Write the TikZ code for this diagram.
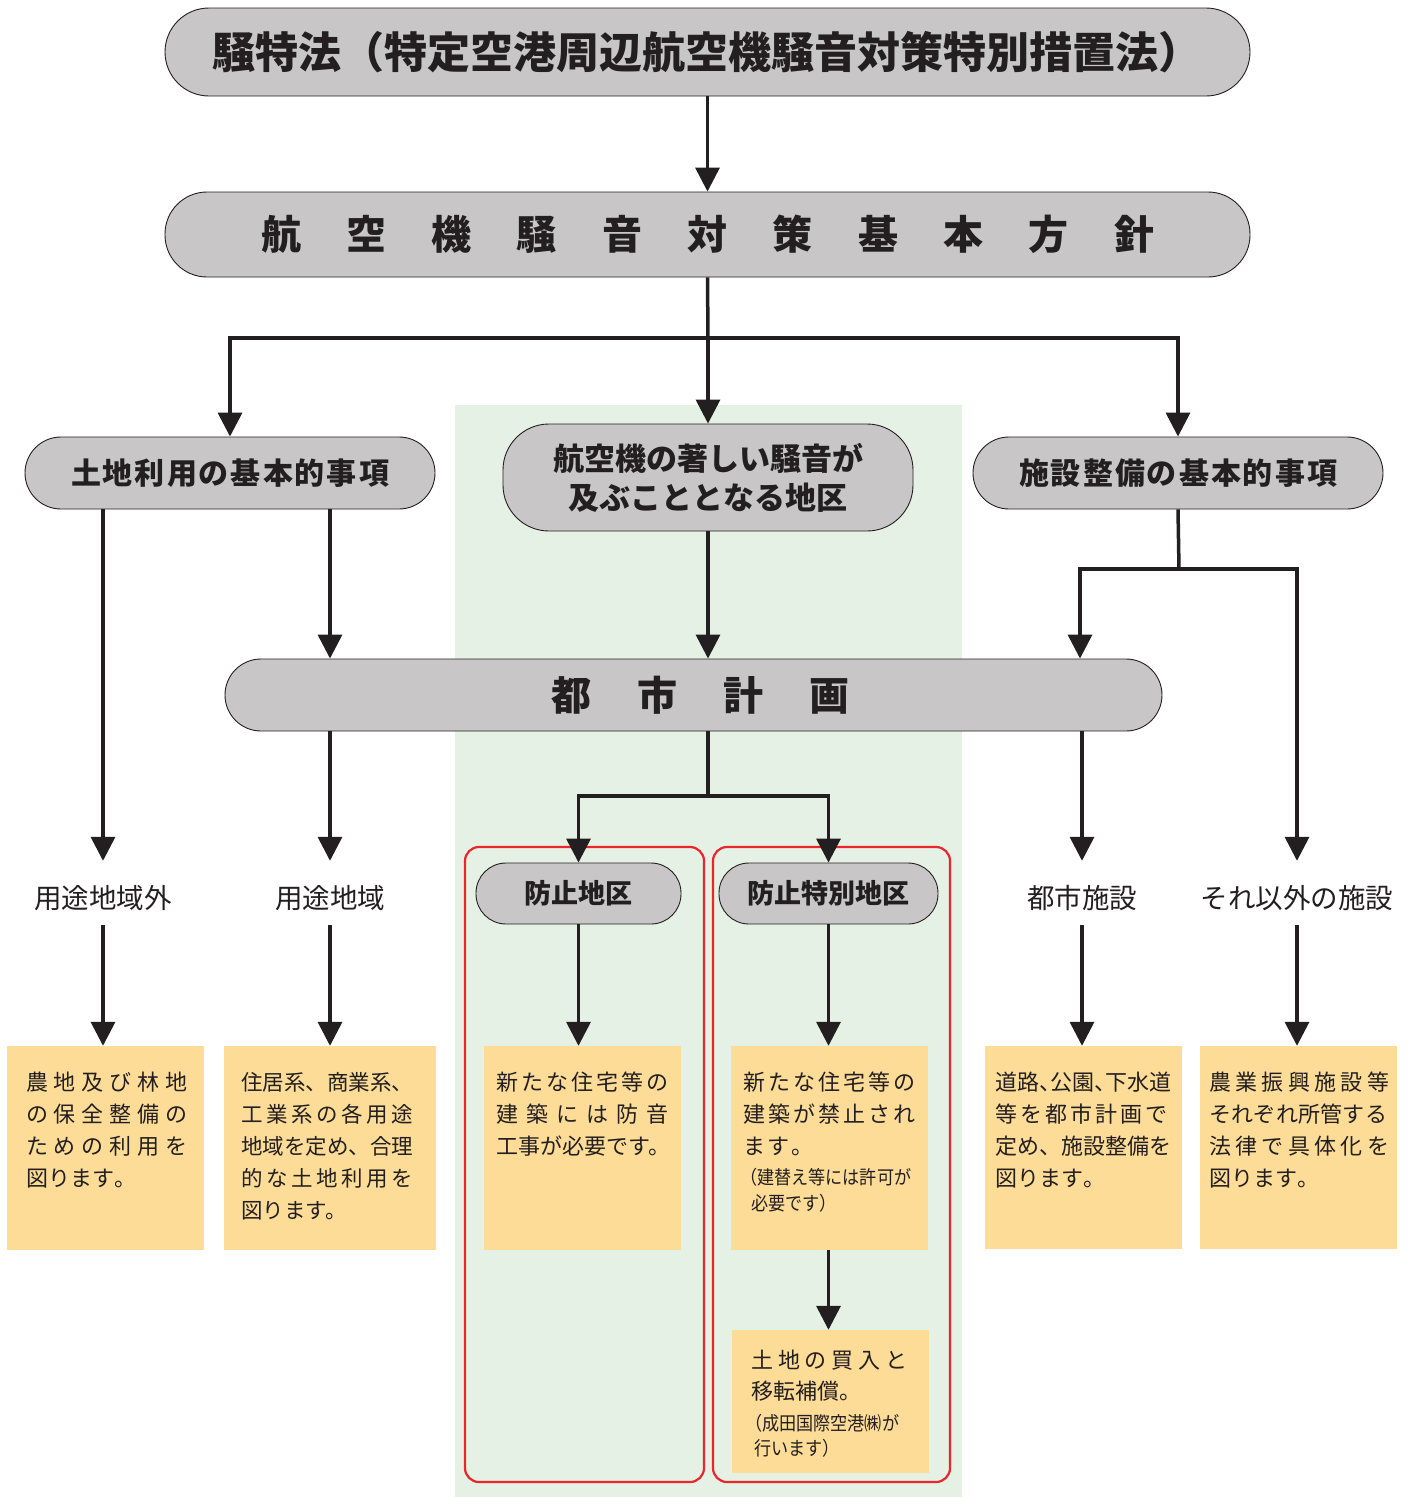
\documentclass[tikz,border=0pt]{standalone}
\usepackage{fontspec}
\setmainfont{Noto Sans CJK JP}
\usetikzlibrary{arrows.meta}
\definecolor{boxgray}{HTML}{C8C6C7}
\definecolor{panelgreen}{HTML}{E6F1E5}
\definecolor{notecol}{HTML}{FDDC98}
\definecolor{framered}{HTML}{E8262B}
\definecolor{ink}{HTML}{231F20}
\makeatletter
\newcommand\jline[2]{\makebox[#1pt][s]{\jl@first#2\@nil}}
\def\jl@first#1{#1\jl@rest}
\def\jl@rest#1{\ifx#1\@nil\else\hfil#1\expandafter\jl@rest\fi}
\makeatother
\newcommand\fs[1]{\fontsize{#1}{#1}\selectfont}
\newcommand\lowered[1]{\raisebox{-5pt}[24pt][3pt]{#1}}
\begin{document}
\begin{tikzpicture}[x=1pt,y=-1pt,
  graybox/.style={draw=ink, line width=0.9, fill=boxgray, inner sep=0, font=\bfseries, text=ink},
  notebox/.style={fill=notecol, inner sep=0},
  lab/.style={inner sep=0, minimum height=64, text=ink, font=\fs{27.5}},
  redframe/.style={draw=framered, line width=2.2, rounded corners=14, inner sep=0},
  ln/.style={line width=3.5, draw=ink},
  arr/.style={ln, -{Triangle[width=24pt,length=24pt]}},
  txt/.style={anchor=base west, inner sep=0, text=ink, font=\fs{22}},
  small/.style={anchor=base west, inner sep=0, text=ink}
]
\useasboundingbox (0,0) rectangle (1410,1497);
% green panel
\node[fill=panelgreen, inner sep=0, minimum width=507, minimum height=1092] (panel) at (708.5,951) {};
% red frames
\node[redframe, minimum width=239, minimum height=635] (fA) at (584.5,1164.5) {};
\node[redframe, minimum width=237, minimum height=635] (fB) at (831.5,1164.5) {};

% gray boxes
\node[graybox, rounded corners=44, minimum width=1085, minimum height=88] (t1) at (707.5,52)
  {\fs{43}\hspace*{-2pt}騒特法（特定空港周辺航空機騒音対策特別措置法）};
\node[graybox, rounded corners=42, minimum width=1085, minimum height=85] (t2) at (707.5,234.5)
  {\fs{40}\jline{893}{航空機騒音対策基本方針}};
\node[graybox, rounded corners=36, minimum width=410, minimum height=72] (hL) at (230,473)
  {\fs{30}\jline{318}{土地利用の基本的事項}};
\node[graybox, rounded corners=46, minimum width=410, minimum height=107, align=center,
  font=\bfseries\fontsize{31}{39}\selectfont] (hC) at (708,477.5)
  {航空機の著しい騒音が\\及ぶこととなる地区};
\node[graybox, rounded corners=36, minimum width=410, minimum height=72] (hR) at (1178,473)
  {\fs{30}\jline{318}{施設整備の基本的事項}};
\node[graybox, rounded corners=36, minimum width=937, minimum height=72] (cp) at (693.5,695)
  {\fs{40}\hspace*{13pt}\jline{298}{都市計画}};
\node[graybox, rounded corners=30, minimum width=205, minimum height=61] (b1) at (578.5,893.5)
  {\fs{27}防止地区};
\node[graybox, rounded corners=30, minimum width=219, minimum height=61] (b2) at (828.5,893.5)
  {\fs{27}防止特別地区};

% labels
\node[lab] (l1) at (103,893) {\lowered{用途地域外}};
\node[lab] (l2) at (330,893) {\lowered{用途地域}};
\node[lab] (l3) at (1082,893) {\lowered{都市施設}};
\node[lab] (l4) at (1297,893) {\lowered{それ以外の施設}};

% note boxes
\node[notebox, minimum width=197, minimum height=204] (nA) at (105.5,1148) {};
\node[notebox, minimum width=212, minimum height=204] (nB) at (330,1148) {};
\node[notebox, minimum width=197, minimum height=204] (nC) at (582.5,1148) {};
\node[notebox, minimum width=197, minimum height=204] (nD) at (829.5,1148) {};
\node[notebox, minimum width=197, minimum height=203] (nE) at (1083.5,1147.5) {};
\node[notebox, minimum width=197, minimum height=203] (nF) at (1298.5,1147.5) {};
\node[notebox, minimum width=197, minimum height=143] (nG) at (830.5,1401.5) {};

% note texts
\node[txt] (a1) at (26,1090) {\jline{161}{農地及び林地}};
\node[txt] (a2) at (26,1122) {\jline{161}{の保全整備の}};
\node[txt] (a3) at (26,1154) {\jline{161}{ための利用を}};
\node[txt] (a4) at (26,1186) {\jline{110}{図ります。}};

\node[txt, font=\fs{21.5}] (b1t) at (241,1090) {住居系、商業系、};
\node[txt, font=\fs{21.5}] (b2t) at (241,1122) {\jline{172}{工業系の各用途}};
\node[txt, font=\fs{21.5}] (b3t) at (241,1154) {地域を定め、合理};
\node[txt, font=\fs{21.5}] (b4t) at (241,1186) {\jline{172}{的な土地利用を}};
\node[txt, font=\fs{21.5}] (b5t) at (241,1218) {図ります。};

\node[txt] (c1) at (496,1090) {\jline{172}{新たな住宅等の}};
\node[txt] (c2) at (496,1122) {\jline{172}{建築には防音}};
\node[txt] (c3) at (496,1154) {工事が必要です。};

\node[txt] (d1) at (743,1090) {\jline{172}{新たな住宅等の}};
\node[txt] (d2) at (743,1122) {\jline{172}{建築が禁止され}};
\node[txt] (d3) at (743,1154) {\jline{70}{ます。}};
\node[small] (d4) at (740,1184) {\scalebox{0.9}[1]{\fs{19}（建替え等には許可が}};
\node[small] (d5) at (751,1210) {\scalebox{0.9}[1]{\fs{19}必要です）}};

\node[txt] (e1) at (995,1090) {道路\makebox[11pt][l]{、}公園\makebox[11pt][l]{、}下水道};
\node[txt] (e2) at (995,1122) {\jline{172}{等を都市計画で}};
\node[txt] (e3) at (995,1154) {定め、施設整備を};
\node[txt] (e4) at (995,1186) {\jline{110}{図ります。}};

\node[txt] (f1) at (1209,1090) {\jline{180}{農業振興施設等}};
\node[txt] (f2) at (1209,1122) {\jline{178}{それぞれ所管する}};
\node[txt] (f3) at (1209,1154) {\jline{180}{法律で具体化を}};
\node[txt] (f4) at (1209,1186) {\jline{110}{図ります。}};

\node[txt] (g1) at (751,1368) {\jline{156}{土地の買入と}};
\node[txt] (g2) at (751,1399) {移転補償。};
\node[small] (g3) at (745,1430) {\scalebox{0.9}[1]{\fs{19}（成田国際空港㈱が}};
\node[small] (g4) at (754,1455) {\scalebox{0.9}[1]{\fs{19}行います）}};

% junction points
\coordinate (jA) at (708,338);
\coordinate (jR) at (1179,569);
\coordinate (jC) at (708,796);

% connectors
\draw[arr] (t1.south) -- (t2.north);
\draw[ln] (t2.south) -- (jA);
\draw[arr] (jA) -| (hL.north);
\draw[arr] (jA) -- (hC.north);
\draw[arr] (jA) -| (hR.north);
\draw[arr] (hL.south -| l1.north) -- (l1.north);
\draw[arr] (hL.south -| l2.north) -- (cp.north -| l2.north);
\draw[arr] (hC.south) -- (hC.south |- cp.north);
\draw[ln] (hR.south) -- (jR);
\draw[arr] (jR) -| ([xshift=-2pt]cp.north -| l3.north);
\draw[arr] (jR) -| (l4.north);
\draw[arr] (cp.south -| l2.north) -- (l2.north);
\draw[arr] (cp.south -| l3.north) -- (l3.north);
\draw[ln] (cp.south -| jC) -- (jC);
\draw[arr] (jC) -| (b1.north);
\draw[arr] (jC) -| (b2.north);
\draw[arr] (l1.south) -- (l1.south |- nA.north);
\draw[arr] (l2.south) -- (l2.south |- nB.north);
\draw[arr] (b1.south) -- (b1.south |- nC.north);
\draw[arr] (b2.south) -- (b2.south |- nD.north);
\draw[arr] (l3.south) -- (l3.south |- nE.north);
\draw[arr] (l4.south) -- (l4.south |- nF.north);
\draw[arr] (nD.south -| b2.south) -- (b2.south |- nG.north);
\end{tikzpicture}
\end{document}
